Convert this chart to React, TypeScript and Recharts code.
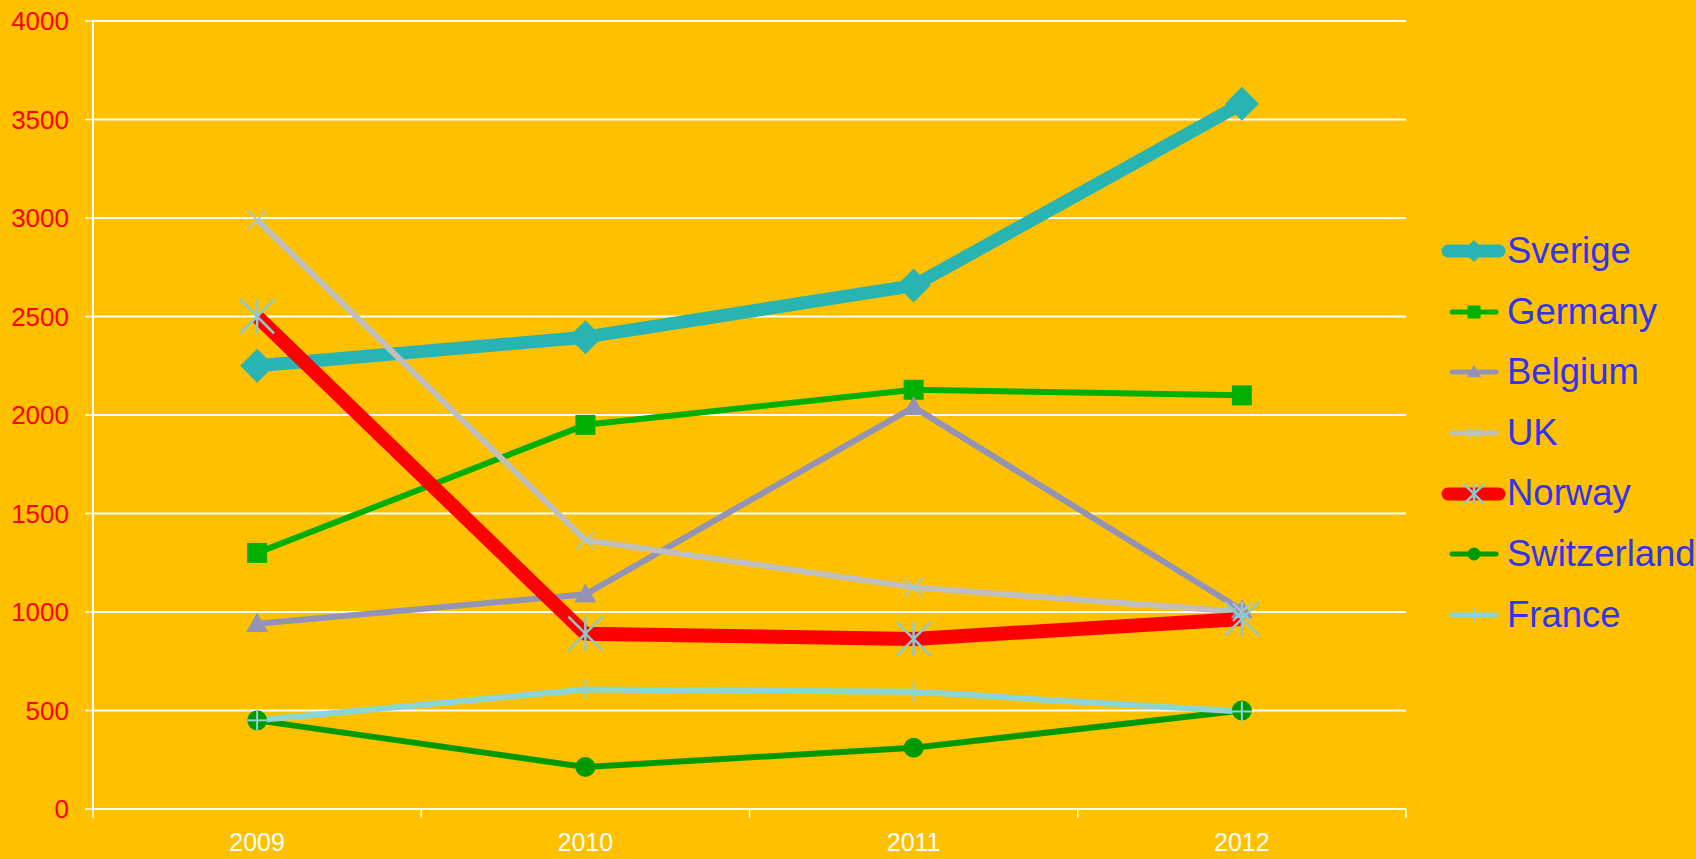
import React from 'react';
import { LineChart, Line, XAxis, YAxis, CartesianGrid, Legend } from 'recharts';

const years = ['2009', '2010', '2011', '2012'];
const sverige = [2250, 2395, 2657, 3580];
const germany = [1300, 1950, 2128, 2100];
const belgium = [940, 1090, 2040, 1010];
const uk = [2990, 1365, 1125, 1000];
const norway = [2500, 890, 863, 965];
const switzerland = [450, 213, 311, 500];
const france = [450, 607, 595, 495];
const yTicks = [0, 500, 1000, 1500, 2000, 2500, 3000, 3500, 4000];

type Shape = 'diamond' | 'square' | 'triangle' | 'x' | 'star' | 'circle' | 'plus';

interface Series {
  key: string;
  name: string;
  values: number[];
  color: string;
  width: number;
  shape: Shape;
  markerColor: string;
  markerSize: number;
}

const series: Series[] = [
  { key: 'sverige', name: 'Sverige', values: sverige, color: '#29B4B4', width: 13, shape: 'diamond', markerColor: '#29B4B4', markerSize: 17 },
  { key: 'germany', name: 'Germany', values: germany, color: '#00B000', width: 6, shape: 'square', markerColor: '#00B000', markerSize: 10 },
  { key: 'belgium', name: 'Belgium', values: belgium, color: '#9393B5', width: 6, shape: 'triangle', markerColor: '#9393B5', markerSize: 11 },
  { key: 'uk', name: 'UK', values: uk, color: '#BFBFBF', width: 6, shape: 'x', markerColor: '#A9C9C9', markerSize: 9 },
  { key: 'norway', name: 'Norway', values: norway, color: '#FF0000', width: 14, shape: 'star', markerColor: '#8FC9C9', markerSize: 17 },
  { key: 'switzerland', name: 'Switzerland', values: switzerland, color: '#009A00', width: 6, shape: 'circle', markerColor: '#009A00', markerSize: 10 },
  { key: 'france', name: 'France', values: france, color: '#8AD5D5', width: 6, shape: 'plus', markerColor: '#8AD5D5', markerSize: 10 },
];

const data = years.map((year, i) => {
  const row: Record<string, string | number> = { year };
  series.forEach((s) => {
    row[s.key] = s.values[i];
  });
  return row;
});

const BG = '#FFC000';
const FONT = '"Liberation Sans", Arial, sans-serif';
const LABEL_GAP = 24;

function Marker({ shape, cx, cy, color, size }: { shape: Shape; cx: number; cy: number; color: string; size: number }) {
  const s = size;
  switch (shape) {
    case 'diamond':
      return <polygon points={`${cx},${cy - s} ${cx + s},${cy} ${cx},${cy + s} ${cx - s},${cy}`} fill={color} />;
    case 'square':
      return <rect x={cx - s} y={cy - s} width={2 * s} height={2 * s} fill={color} />;
    case 'triangle':
      return <polygon points={`${cx},${cy - s} ${cx + s},${cy + s * 0.75} ${cx - s},${cy + s * 0.75}`} fill={color} />;
    case 'circle':
      return <circle cx={cx} cy={cy} r={s} fill={color} />;
    case 'x':
      return (
        <g stroke={color} strokeWidth={2}>
          <line x1={cx - s} y1={cy - s} x2={cx + s} y2={cy + s} />
          <line x1={cx - s} y1={cy + s} x2={cx + s} y2={cy - s} />
        </g>
      );
    case 'star':
      return (
        <g stroke={color} strokeWidth={2.5}>
          <line x1={cx - s} y1={cy - s} x2={cx + s} y2={cy + s} />
          <line x1={cx - s} y1={cy + s} x2={cx + s} y2={cy - s} />
          <line x1={cx} y1={cy - s} x2={cx} y2={cy + s} />
        </g>
      );
    case 'plus':
      return (
        <g stroke={color} strokeWidth={2}>
          <line x1={cx} y1={cy - s} x2={cx} y2={cy + s} />
          <line x1={cx - s} y1={cy} x2={cx + s} y2={cy} />
        </g>
      );
    default:
      return null;
  }
}

function YearTick(props: any) {
  const { x, y, payload, index, visibleTicksCount } = props;
  const half = payload && typeof payload.offset === 'number' ? payload.offset : 0;
  const axisY = y - LABEL_GAP;
  return (
    <g>
      {half > 0 && <line x1={x - half} y1={axisY} x2={x - half} y2={axisY + 9} stroke="#FFFFFF" strokeWidth={1.5} />}
      {half > 0 && index === visibleTicksCount - 1 && (
        <line x1={x + half} y1={axisY} x2={x + half} y2={axisY + 9} stroke="#FFFFFF" strokeWidth={1.5} />
      )}
      <text x={x} y={y} dy="0.71em" textAnchor="middle" fill="#FFFFFF" fontSize={25} fontFamily={FONT}>
        {payload.value}
      </text>
    </g>
  );
}

function LegendContent() {
  return (
    <div style={{ fontFamily: FONT }}>
      {series.map((s) => {
        const thick = s.width > 8;
        return (
          <div key={s.key} style={{ display: 'flex', alignItems: 'center', height: 60.6 }}>
            <svg width={67} height={60} style={{ display: 'block' }}>
              <line
                x1={thick ? 8 : 12}
                y1={30}
                x2={thick ? 59 : 56}
                y2={30}
                stroke={s.color}
                strokeWidth={thick ? 13 : 5}
                strokeLinecap="round"
              />
              <Marker shape={s.shape} cx={34} cy={30} color={s.markerColor} size={s.markerSize * (s.shape === 'star' || s.shape === 'x' ? 0.6 : 0.65)} />
            </svg>
            <span style={{ fontSize: 36.5, color: '#3333EE', whiteSpace: 'nowrap', lineHeight: '60.6px' }}>{s.name}</span>
          </div>
        );
      })}
    </div>
  );
}

export default function App() {
  return (
    <div style={{ position: 'absolute', left: 0, top: 0, width: 1696, height: 859, background: BG, overflow: 'hidden' }}>
      <LineChart width={1696} height={859} data={data} margin={{ top: 21, right: 290, left: 0, bottom: 0 }}>
        <CartesianGrid vertical={false} stroke="#FFFFFF" strokeWidth={2} />
        <XAxis
          dataKey="year"
          scale="band"
          height={50}
          axisLine={{ stroke: '#FFFFFF', strokeWidth: 2 }}
          tickLine={false}
          tickSize={0}
          tickMargin={LABEL_GAP}
          tick={<YearTick />}
          interval={0}
        />
        <YAxis
          width={93}
          domain={[0, 4000]}
          ticks={yTicks}
          interval={0}
          axisLine={{ stroke: '#FFFFFF', strokeWidth: 2 }}
          tickLine={{ stroke: '#FFFFFF', strokeWidth: 1.5 }}
          tickSize={8}
          tickMargin={16}
          tick={{ fill: '#FF0000', fontSize: 26, fontFamily: FONT }}
        />
        <Legend
          layout="horizontal"
          verticalAlign="middle"
          align="center"
          wrapperStyle={{ left: 1440, top: 221, width: 256 }}
          content={<LegendContent />}
        />
        {series.map((s) => (
          <Line
            key={s.key}
            dataKey={s.key}
            name={s.name}
            type="linear"
            stroke={s.color}
            strokeWidth={s.width}
            strokeLinejoin="round"
            isAnimationActive={false}
            activeDot={false}
            dot={(p: any) => (
              <g key={`${s.key}-${p.index}`}>
                <Marker shape={s.shape} cx={p.cx} cy={p.cy} color={s.markerColor} size={s.markerSize} />
              </g>
            )}
          />
        ))}
      </LineChart>
    </div>
  );
}
